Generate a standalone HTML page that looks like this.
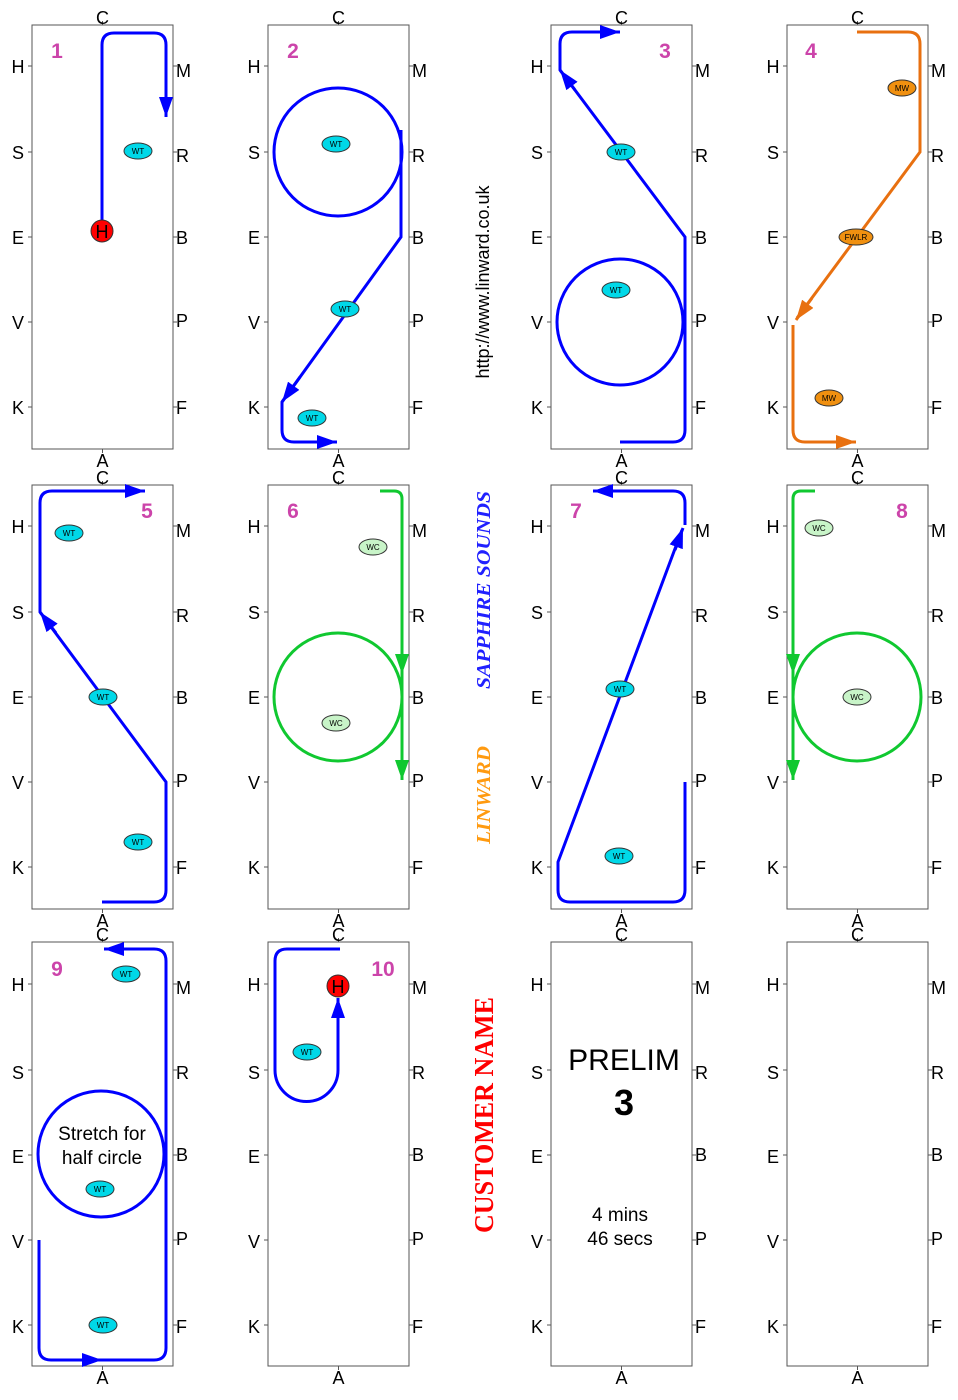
<!DOCTYPE html>
<html><head><meta charset="utf-8"><style>
html,body{margin:0;padding:0;background:#fff;}
svg{display:block;}
text{font-family:"Liberation Sans",sans-serif;}
.l{font-size:18px;text-anchor:middle;fill:#000;}
.r{font-size:18px;text-anchor:start;fill:#000;}
.n{font-size:21px;font-weight:bold;fill:#cc44aa;text-anchor:middle;}
.e{font-size:8px;text-anchor:middle;fill:#000;}
.fr{fill:none;stroke:#555;stroke-width:1;}
.b{fill:none;stroke:#0000ff;stroke-width:3;}
.g{fill:none;stroke:#10c830;stroke-width:3;}
.o{fill:none;stroke:#e87010;stroke-width:3;}
.wt{fill:#00d8e8;stroke:#333;stroke-width:1;}
.wc{fill:#c8f4c8;stroke:#333;stroke-width:1;}
.mw{fill:#f09010;stroke:#333;stroke-width:1;}
</style></head><body>
<svg width="958" height="1400" viewBox="0 0 958 1400" xmlns="http://www.w3.org/2000/svg">
<defs>
<marker id="ab" viewBox="0 0 20 14" refX="20" refY="7" markerWidth="20" markerHeight="14" markerUnits="userSpaceOnUse" orient="auto"><path d="M0,0 L20,7 L0,14z" fill="#0000ff"/></marker>
<marker id="ag" viewBox="0 0 20 14" refX="20" refY="7" markerWidth="20" markerHeight="14" markerUnits="userSpaceOnUse" orient="auto"><path d="M0,0 L20,7 L0,14z" fill="#10c830"/></marker>
<marker id="ao" viewBox="0 0 20 14" refX="20" refY="7" markerWidth="20" markerHeight="14" markerUnits="userSpaceOnUse" orient="auto"><path d="M0,0 L20,7 L0,14z" fill="#e87010"/></marker>
</defs>

<!-- Arena frames -->
<g transform="translate(32,25)"><rect class="fr" x="0" y="0" width="141" height="424"/><path class="fr" d="M-4,41H0M-4,127H0M-4,212H0M-4,297H0M-4,382H0M141,41H145M141,127H145M141,212H145M141,297H145M141,382H145M70.5,0V-4M70.5,424V428"/><text class="l" x="70.5" y="-1">C</text><text class="l" x="70.5" y="442">A</text><text class="l" x="-14" y="48">H</text><text class="l" x="-14" y="134">S</text><text class="l" x="-14" y="219">E</text><text class="l" x="-14" y="304">V</text><text class="l" x="-14" y="389">K</text><text class="r" x="144" y="52">M</text><text class="r" x="144" y="137">R</text><text class="r" x="144" y="219">B</text><text class="r" x="144" y="302">P</text><text class="r" x="144" y="389">F</text></g>
<g transform="translate(268,25)"><rect class="fr" x="0" y="0" width="141" height="424"/><path class="fr" d="M-4,41H0M-4,127H0M-4,212H0M-4,297H0M-4,382H0M141,41H145M141,127H145M141,212H145M141,297H145M141,382H145M70.5,0V-4M70.5,424V428"/><text class="l" x="70.5" y="-1">C</text><text class="l" x="70.5" y="442">A</text><text class="l" x="-14" y="48">H</text><text class="l" x="-14" y="134">S</text><text class="l" x="-14" y="219">E</text><text class="l" x="-14" y="304">V</text><text class="l" x="-14" y="389">K</text><text class="r" x="144" y="52">M</text><text class="r" x="144" y="137">R</text><text class="r" x="144" y="219">B</text><text class="r" x="144" y="302">P</text><text class="r" x="144" y="389">F</text></g>
<g transform="translate(551,25)"><rect class="fr" x="0" y="0" width="141" height="424"/><path class="fr" d="M-4,41H0M-4,127H0M-4,212H0M-4,297H0M-4,382H0M141,41H145M141,127H145M141,212H145M141,297H145M141,382H145M70.5,0V-4M70.5,424V428"/><text class="l" x="70.5" y="-1">C</text><text class="l" x="70.5" y="442">A</text><text class="l" x="-14" y="48">H</text><text class="l" x="-14" y="134">S</text><text class="l" x="-14" y="219">E</text><text class="l" x="-14" y="304">V</text><text class="l" x="-14" y="389">K</text><text class="r" x="144" y="52">M</text><text class="r" x="144" y="137">R</text><text class="r" x="144" y="219">B</text><text class="r" x="144" y="302">P</text><text class="r" x="144" y="389">F</text></g>
<g transform="translate(787,25)"><rect class="fr" x="0" y="0" width="141" height="424"/><path class="fr" d="M-4,41H0M-4,127H0M-4,212H0M-4,297H0M-4,382H0M141,41H145M141,127H145M141,212H145M141,297H145M141,382H145M70.5,0V-4M70.5,424V428"/><text class="l" x="70.5" y="-1">C</text><text class="l" x="70.5" y="442">A</text><text class="l" x="-14" y="48">H</text><text class="l" x="-14" y="134">S</text><text class="l" x="-14" y="219">E</text><text class="l" x="-14" y="304">V</text><text class="l" x="-14" y="389">K</text><text class="r" x="144" y="52">M</text><text class="r" x="144" y="137">R</text><text class="r" x="144" y="219">B</text><text class="r" x="144" y="302">P</text><text class="r" x="144" y="389">F</text></g>

<g transform="translate(32,485)"><rect class="fr" x="0" y="0" width="141" height="424"/><path class="fr" d="M-4,41H0M-4,127H0M-4,212H0M-4,297H0M-4,382H0M141,41H145M141,127H145M141,212H145M141,297H145M141,382H145M70.5,0V-4M70.5,424V428"/><text class="l" x="70.5" y="-1">C</text><text class="l" x="70.5" y="442">A</text><text class="l" x="-14" y="48">H</text><text class="l" x="-14" y="134">S</text><text class="l" x="-14" y="219">E</text><text class="l" x="-14" y="304">V</text><text class="l" x="-14" y="389">K</text><text class="r" x="144" y="52">M</text><text class="r" x="144" y="137">R</text><text class="r" x="144" y="219">B</text><text class="r" x="144" y="302">P</text><text class="r" x="144" y="389">F</text></g>
<g transform="translate(268,485)"><rect class="fr" x="0" y="0" width="141" height="424"/><path class="fr" d="M-4,41H0M-4,127H0M-4,212H0M-4,297H0M-4,382H0M141,41H145M141,127H145M141,212H145M141,297H145M141,382H145M70.5,0V-4M70.5,424V428"/><text class="l" x="70.5" y="-1">C</text><text class="l" x="70.5" y="442">A</text><text class="l" x="-14" y="48">H</text><text class="l" x="-14" y="134">S</text><text class="l" x="-14" y="219">E</text><text class="l" x="-14" y="304">V</text><text class="l" x="-14" y="389">K</text><text class="r" x="144" y="52">M</text><text class="r" x="144" y="137">R</text><text class="r" x="144" y="219">B</text><text class="r" x="144" y="302">P</text><text class="r" x="144" y="389">F</text></g>
<g transform="translate(551,485)"><rect class="fr" x="0" y="0" width="141" height="424"/><path class="fr" d="M-4,41H0M-4,127H0M-4,212H0M-4,297H0M-4,382H0M141,41H145M141,127H145M141,212H145M141,297H145M141,382H145M70.5,0V-4M70.5,424V428"/><text class="l" x="70.5" y="-1">C</text><text class="l" x="70.5" y="442">A</text><text class="l" x="-14" y="48">H</text><text class="l" x="-14" y="134">S</text><text class="l" x="-14" y="219">E</text><text class="l" x="-14" y="304">V</text><text class="l" x="-14" y="389">K</text><text class="r" x="144" y="52">M</text><text class="r" x="144" y="137">R</text><text class="r" x="144" y="219">B</text><text class="r" x="144" y="302">P</text><text class="r" x="144" y="389">F</text></g>
<g transform="translate(787,485)"><rect class="fr" x="0" y="0" width="141" height="424"/><path class="fr" d="M-4,41H0M-4,127H0M-4,212H0M-4,297H0M-4,382H0M141,41H145M141,127H145M141,212H145M141,297H145M141,382H145M70.5,0V-4M70.5,424V428"/><text class="l" x="70.5" y="-1">C</text><text class="l" x="70.5" y="442">A</text><text class="l" x="-14" y="48">H</text><text class="l" x="-14" y="134">S</text><text class="l" x="-14" y="219">E</text><text class="l" x="-14" y="304">V</text><text class="l" x="-14" y="389">K</text><text class="r" x="144" y="52">M</text><text class="r" x="144" y="137">R</text><text class="r" x="144" y="219">B</text><text class="r" x="144" y="302">P</text><text class="r" x="144" y="389">F</text></g>

<g transform="translate(32,942)"><rect class="fr" x="0" y="0" width="141" height="424"/><path class="fr" d="M-4,42H0M-4,128H0M-4,213H0M-4,298H0M-4,383H0M141,42H145M141,128H145M141,213H145M141,298H145M141,383H145M70.5,0V-4M70.5,424V428"/><text class="l" x="70.5" y="-1">C</text><text class="l" x="70.5" y="442">A</text><text class="l" x="-14" y="49">H</text><text class="l" x="-14" y="137">S</text><text class="l" x="-14" y="221">E</text><text class="l" x="-14" y="306">V</text><text class="l" x="-14" y="391">K</text><text class="r" x="144" y="52">M</text><text class="r" x="144" y="137">R</text><text class="r" x="144" y="219">B</text><text class="r" x="144" y="303">P</text><text class="r" x="144" y="391">F</text></g>
<g transform="translate(268,942)"><rect class="fr" x="0" y="0" width="141" height="424"/><path class="fr" d="M-4,42H0M-4,128H0M-4,213H0M-4,298H0M-4,383H0M141,42H145M141,128H145M141,213H145M141,298H145M141,383H145M70.5,0V-4M70.5,424V428"/><text class="l" x="70.5" y="-1">C</text><text class="l" x="70.5" y="442">A</text><text class="l" x="-14" y="49">H</text><text class="l" x="-14" y="137">S</text><text class="l" x="-14" y="221">E</text><text class="l" x="-14" y="306">V</text><text class="l" x="-14" y="391">K</text><text class="r" x="144" y="52">M</text><text class="r" x="144" y="137">R</text><text class="r" x="144" y="219">B</text><text class="r" x="144" y="303">P</text><text class="r" x="144" y="391">F</text></g>
<g transform="translate(551,942)"><rect class="fr" x="0" y="0" width="141" height="424"/><path class="fr" d="M-4,42H0M-4,128H0M-4,213H0M-4,298H0M-4,383H0M141,42H145M141,128H145M141,213H145M141,298H145M141,383H145M70.5,0V-4M70.5,424V428"/><text class="l" x="70.5" y="-1">C</text><text class="l" x="70.5" y="442">A</text><text class="l" x="-14" y="49">H</text><text class="l" x="-14" y="137">S</text><text class="l" x="-14" y="221">E</text><text class="l" x="-14" y="306">V</text><text class="l" x="-14" y="391">K</text><text class="r" x="144" y="52">M</text><text class="r" x="144" y="137">R</text><text class="r" x="144" y="219">B</text><text class="r" x="144" y="303">P</text><text class="r" x="144" y="391">F</text></g>
<g transform="translate(787,942)"><rect class="fr" x="0" y="0" width="141" height="424"/><path class="fr" d="M-4,42H0M-4,128H0M-4,213H0M-4,298H0M-4,383H0M141,42H145M141,128H145M141,213H145M141,298H145M141,383H145M70.5,0V-4M70.5,424V428"/><text class="l" x="70.5" y="-1">C</text><text class="l" x="70.5" y="442">A</text><text class="l" x="-14" y="49">H</text><text class="l" x="-14" y="137">S</text><text class="l" x="-14" y="221">E</text><text class="l" x="-14" y="306">V</text><text class="l" x="-14" y="391">K</text><text class="r" x="144" y="52">M</text><text class="r" x="144" y="137">R</text><text class="r" x="144" y="219">B</text><text class="r" x="144" y="303">P</text><text class="r" x="144" y="391">F</text></g>

<!-- numbers -->
<text class="n" x="57" y="58">1</text>
<text class="n" x="293" y="58">2</text>
<text class="n" x="665" y="58">3</text>
<text class="n" x="811" y="58">4</text>
<text class="n" x="147" y="518">5</text>
<text class="n" x="293" y="518">6</text>
<text class="n" x="576" y="518">7</text>
<text class="n" x="902" y="518">8</text>
<text class="n" x="57" y="976">9</text>
<text class="n" x="383" y="976">10</text>

<!-- 1 -->
<path class="b" d="M102,231 V45 Q102,33 114,33 H154 Q166,33 166,45 V98"/>
<line class="b" x1="166" y1="95" x2="166" y2="117" marker-end="url(#ab)"/>
<ellipse class="wt" cx="138" cy="151" rx="14" ry="8"/><text class="e" x="138" y="154">WT</text>
<circle cx="102" cy="231" r="11" fill="#ff0000" stroke="#333"/><text x="102" y="238" font-size="18" text-anchor="middle">H</text>

<!-- 2 -->
<circle class="b" cx="338" cy="152" r="64"/>
<path class="b" d="M401,130 V237 L282,402 V430 Q282,442 294,442 H318"/>
<line class="b" x1="300" y1="377" x2="282" y2="402" marker-end="url(#ab)"/>
<line class="b" x1="315" y1="442" x2="337" y2="442" marker-end="url(#ab)"/>
<ellipse class="wt" cx="336" cy="144" rx="14" ry="8"/><text class="e" x="336" y="147">WT</text>
<ellipse class="wt" cx="345" cy="309" rx="14" ry="8"/><text class="e" x="345" y="312">WT</text>
<ellipse class="wt" cx="312" cy="418" rx="14" ry="8"/><text class="e" x="312" y="421">WT</text>

<!-- 3 -->
<circle class="b" cx="620" cy="322" r="63"/>
<path class="b" d="M620,442 H673 Q685,442 685,430 V237 L560,70 V44 Q560,32 572,32 H600"/>
<line class="b" x1="575" y1="90" x2="560" y2="70" marker-end="url(#ab)"/>
<line class="b" x1="598" y1="32" x2="620" y2="32" marker-end="url(#ab)"/>
<ellipse class="wt" cx="621" cy="152" rx="14" ry="8"/><text class="e" x="621" y="155">WT</text>
<ellipse class="wt" cx="616" cy="290" rx="14" ry="8"/><text class="e" x="616" y="293">WT</text>

<!-- 4 -->
<path class="o" d="M857,32 H908 Q920,32 920,44 V152 L797,318 M793,325 V430 Q793,442 805,442 H838"/>
<line class="o" x1="812" y1="298" x2="796" y2="320" marker-end="url(#ao)"/>
<line class="o" x1="834" y1="442" x2="856" y2="442" marker-end="url(#ao)"/>
<ellipse class="mw" cx="902" cy="88" rx="14" ry="8"/><text class="e" x="902" y="91">MW</text>
<ellipse class="mw" cx="856" cy="237" rx="17" ry="8"/><text class="e" x="856" y="240">FWLR</text>
<ellipse class="mw" cx="829" cy="398" rx="14" ry="8"/><text class="e" x="829" y="401">MW</text>

<!-- 5 -->
<path class="b" d="M102,902 H154 Q166,902 166,890 V782 L40,612 V503 Q40,491 52,491 H125"/>
<line class="b" x1="56" y1="633" x2="40" y2="612" marker-end="url(#ab)"/>
<line class="b" x1="123" y1="491" x2="145" y2="491" marker-end="url(#ab)"/>
<ellipse class="wt" cx="69" cy="533" rx="14" ry="8"/><text class="e" x="69" y="536">WT</text>
<ellipse class="wt" cx="103" cy="697" rx="14" ry="8"/><text class="e" x="103" y="700">WT</text>
<ellipse class="wt" cx="138" cy="842" rx="14" ry="8"/><text class="e" x="138" y="845">WT</text>

<!-- 6 -->
<circle class="g" cx="338" cy="697" r="64"/>
<path class="g" d="M380,491 H394 Q402,491 402,499 V760"/>
<line class="g" x1="402" y1="652" x2="402" y2="674" marker-end="url(#ag)"/>
<line class="g" x1="402" y1="758" x2="402" y2="780" marker-end="url(#ag)"/>
<ellipse class="wc" cx="373" cy="547" rx="14" ry="8"/><text class="e" x="373" y="550">WC</text>
<ellipse class="wc" cx="336" cy="723" rx="14" ry="8"/><text class="e" x="336" y="726">WC</text>

<!-- 7 -->
<path class="b" d="M685,782 V890 Q685,902 673,902 H570 Q558,902 558,890 V862 L682,530 M685,525 V503 Q685,491 673,491 H612"/>
<line class="b" x1="675" y1="550" x2="683" y2="528" marker-end="url(#ab)"/>
<line class="b" x1="615" y1="491" x2="593" y2="491" marker-end="url(#ab)"/>
<ellipse class="wt" cx="620" cy="689" rx="14" ry="8"/><text class="e" x="620" y="692">WT</text>
<ellipse class="wt" cx="619" cy="856" rx="14" ry="8"/><text class="e" x="619" y="859">WT</text>

<!-- 8 -->
<circle class="g" cx="857" cy="697" r="64"/>
<path class="g" d="M815,491 H801 Q793,491 793,499 V760"/>
<line class="g" x1="793" y1="652" x2="793" y2="674" marker-end="url(#ag)"/>
<line class="g" x1="793" y1="758" x2="793" y2="780" marker-end="url(#ag)"/>
<ellipse class="wc" cx="819" cy="528" rx="14" ry="8"/><text class="e" x="819" y="531">WC</text>
<ellipse class="wc" cx="857" cy="697" rx="14" ry="8"/><text class="e" x="857" y="700">WC</text>

<!-- 9 -->
<circle class="b" cx="101" cy="1154" r="63"/>
<path class="b" d="M39,1240 V1348 Q39,1360 51,1360 H154 Q166,1360 166,1348 V961 Q166,949 154,949 H122"/>
<line class="b" x1="80" y1="1360" x2="102" y2="1360" marker-end="url(#ab)"/>
<line class="b" x1="126" y1="949" x2="104" y2="949" marker-end="url(#ab)"/>
<text x="102" y="1140" font-size="19" text-anchor="middle">Stretch for</text>
<text x="102" y="1164" font-size="19" text-anchor="middle">half circle</text>
<ellipse class="wt" cx="126" cy="974" rx="14" ry="8"/><text class="e" x="126" y="977">WT</text>
<ellipse class="wt" cx="100" cy="1189" rx="14" ry="8"/><text class="e" x="100" y="1192">WT</text>
<ellipse class="wt" cx="103" cy="1325" rx="14" ry="8"/><text class="e" x="103" y="1328">WT</text>

<!-- 10 -->
<path class="b" d="M340,949 H287 Q275,949 275,961 V1070 A31.5,31.5 0 0 0 338,1070 V1015"/>
<line class="b" x1="338" y1="1020" x2="338" y2="998" marker-end="url(#ab)"/>
<circle cx="338" cy="986" r="11" fill="#ff0000" stroke="#333"/><text x="338" y="993" font-size="18" text-anchor="middle">H</text>
<ellipse class="wt" cx="307" cy="1052" rx="14" ry="8"/><text class="e" x="307" y="1055">WT</text>

<!-- 11 -->
<text x="624" y="1070" font-size="30" text-anchor="middle">PRELIM</text>
<text x="624" y="1115" font-size="36" font-weight="bold" text-anchor="middle">3</text>
<text x="620" y="1221" font-size="19" text-anchor="middle">4 mins</text>
<text x="620" y="1245" font-size="19" text-anchor="middle">46 secs</text>

<!-- vertical texts -->
<text transform="translate(489,282) rotate(-90)" font-size="18" text-anchor="middle">http://www.linward.co.uk</text>
<text transform="translate(490,590) rotate(-90)" font-size="20" font-weight="bold" font-style="italic" text-anchor="middle" fill="#2020ff" style="font-family:'Liberation Serif',serif" textLength="198" lengthAdjust="spacingAndGlyphs">SAPPHIRE SOUNDS</text>
<text transform="translate(490,795) rotate(-90)" font-size="20" font-weight="bold" font-style="italic" text-anchor="middle" fill="#ff9a10" style="font-family:'Liberation Serif',serif" textLength="98" lengthAdjust="spacingAndGlyphs">LINWARD</text>
<text transform="translate(493,1115) rotate(-90)" font-size="27" font-weight="bold" text-anchor="middle" fill="#ff0000" style="font-family:'Liberation Serif',serif" textLength="236" lengthAdjust="spacingAndGlyphs">CUSTOMER NAME</text>
</svg>
</body></html>
